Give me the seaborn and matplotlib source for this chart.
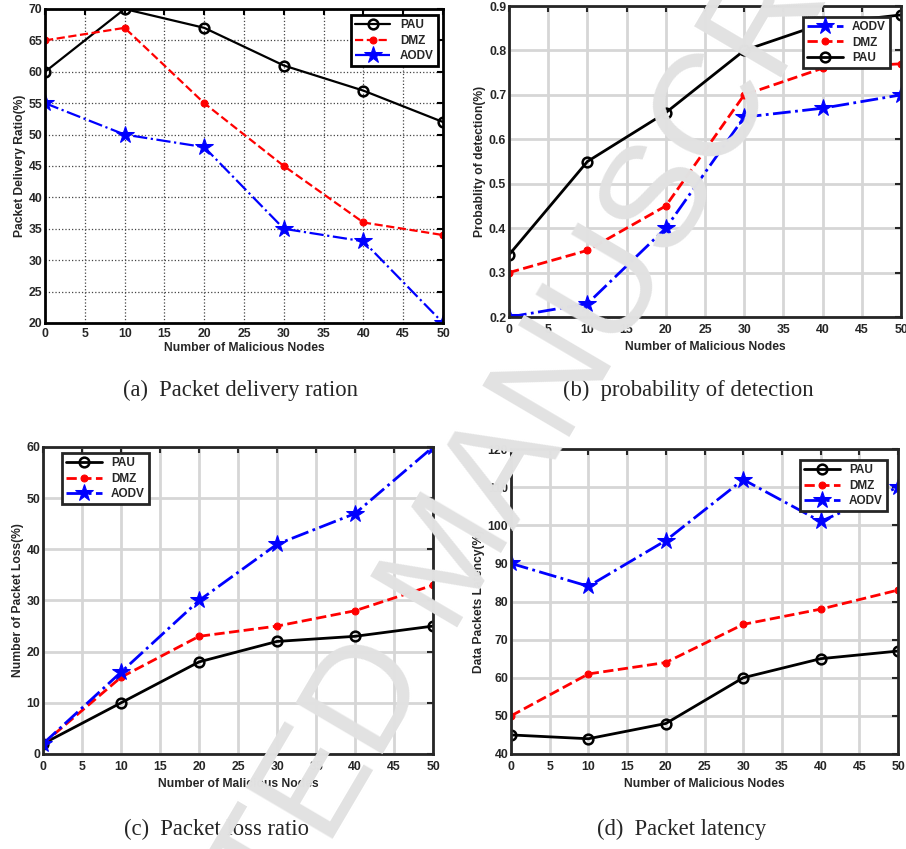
import matplotlib
matplotlib.use("Agg")
import matplotlib.pyplot as plt
import seaborn as sns

# x values shared by all four panels
nodes = [0, 10, 20, 30, 40, 50]

# (a) packet delivery ratio
pdr_pau = [60, 70, 67, 61, 57, 52]
pdr_dmz = [65, 67, 55, 45, 36, 34]
pdr_aodv = [55, 50, 48, 35, 33, 20]

# (b) probability of detection
det_aodv = [0.20, 0.23, 0.40, 0.65, 0.67, 0.70]
det_dmz = [0.30, 0.35, 0.45, 0.70, 0.76, 0.77]
det_pau = [0.34, 0.55, 0.66, 0.80, 0.86, 0.88]

# (c) packet loss
loss_pau = [2, 10, 18, 22, 23, 25]
loss_dmz = [2, 15, 23, 25, 28, 33]
loss_aodv = [2, 16, 30, 41, 47, 60]

# (d) latency
lat_pau = [45, 44, 48, 60, 65, 67]
lat_dmz = [50, 61, 64, 74, 78, 83]
lat_aodv = [90, 84, 96, 112, 101, 110]

sns.set_style("white")
plt.rcParams['font.family'] = ['Liberation Sans', 'DejaVu Sans']
plt.rcParams['font.weight'] = 'bold'

STYLE = {
    "PAU": dict(color="black", linestyle="-", marker="o", markersize=7,
                markerfacecolor="none", markeredgecolor="black",
                markeredgewidth=1.8),
    "DMZ": dict(color="red", linestyle="--", marker="o", markersize=5,
                markerfacecolor="red", markeredgecolor="red"),
    "AODV": dict(color="blue", linestyle="-.", marker="*", markersize=13,
                 markerfacecolor="blue", markeredgecolor="blue"),
}


def draw(ax, series, ylim, yticks, ylabel, legend_at, old_grid=False):
    lw = 1.6 if old_grid else 2.0
    for name, vals in series:
        sns.lineplot(x=nodes, y=vals, ax=ax, label=name, linewidth=lw,
                     **STYLE[name])
    ax.set_xlim(0, 50)
    ax.set_ylim(*ylim)
    ax.set_xticks(range(0, 55, 5))
    ax.set_yticks(yticks)
    if old_grid:
        ax.grid(True, linestyle=":", color="#444444", linewidth=0.9)
        spine_c = "black"
        xpad, xlpad = 3.5, 1.7
    else:
        ax.grid(True, linestyle="-", color="#d6d6d6", linewidth=2)
        spine_c = "#262626"
        xpad, xlpad = 5, 3.5
    ax.set_axisbelow(True)
    for s in ax.spines.values():
        s.set_visible(True)
        s.set_color(spine_c)
        s.set_linewidth(2)
    ax.tick_params(direction="in", length=4, width=1.5, top=True, right=True,
                   labelsize=8.8, pad=2, colors=spine_c, labelcolor="#262626")
    ax.tick_params(axis="x", pad=xpad)
    ax.set_xlabel("Number of Malicious Nodes", fontsize=8.7, fontweight="bold",
                  labelpad=xlpad, color="#262626")
    ax.set_ylabel(ylabel, fontsize=8.7, fontweight="bold", labelpad=2,
                  color="#262626")
    loc, anchor = legend_at
    leg = ax.legend(loc=loc, bbox_to_anchor=anchor, fontsize=8.5,
                    frameon=True, fancybox=False, handlelength=3.0,
                    borderpad=0.35, labelspacing=0.3, borderaxespad=0)
    leg.get_frame().set_edgecolor(spine_c)
    leg.get_frame().set_linewidth(2)
    leg.get_frame().set_alpha(1)


fig = plt.figure(figsize=(9.06, 8.49), dpi=100)

ax_a = fig.add_axes([0.0497, 0.6196, 0.4393, 0.3698])
draw(ax_a, [("PAU", pdr_pau), ("DMZ", pdr_dmz), ("AODV", pdr_aodv)],
     (20, 70), range(20, 75, 5), "Packet Delivery Ratio(%)",
     ("upper right", (0.987, 0.981)), old_grid=True)

ax_b = fig.add_axes([0.5618, 0.6266, 0.4327, 0.3663])
draw(ax_b, [("AODV", det_aodv), ("DMZ", det_dmz), ("PAU", det_pau)],
     (0.2, 0.9), [0.2, 0.3, 0.4, 0.5, 0.6, 0.7, 0.8, 0.9],
     "Probablity of detection(%)", ("upper right", (0.972, 0.965)))

ax_c = fig.add_axes([0.0475, 0.1119, 0.4305, 0.3616])
draw(ax_c, [("PAU", loss_pau), ("DMZ", loss_dmz), ("AODV", loss_aodv)],
     (0, 60), range(0, 70, 10), "Number of Packet Loss(%)",
     ("upper left", (0.049, 0.980)))

ax_d = fig.add_axes([0.564, 0.1119, 0.4272, 0.3592])
draw(ax_d, [("PAU", lat_pau), ("DMZ", lat_dmz), ("AODV", lat_aodv)],
     (40, 120), range(40, 130, 10), "Data Packets Latency(%)",
     ("upper right", (0.972, 0.964)))

# sub-figure captions
cap = dict(fontsize=16.3, fontweight="normal", ha="center", va="center",
           family=["Liberation Serif", "DejaVu Serif"])
fig.text(240 / 906, 1 - 390 / 849, "(a)  Packet delivery ration", **cap)
fig.text(688 / 906, 1 - 390 / 849, "(b)  probability of detection", **cap)
fig.text(217 / 906, 1 - 829 / 849, "(c)  Packet loss ratio", **cap)
fig.text(682 / 906, 1 - 829 / 849, "(d)  Packet latency", **cap)

# watermark
fig.text(452 / 906, 1 - 562 / 849, "ACCEPTED MANUSCRIPT", fontsize=106,
         fontweight="normal", color="#e2e2e2", rotation=59.5, ha="center",
         va="center", rotation_mode="anchor", zorder=10)

fig.savefig("out.png", dpi=100)
